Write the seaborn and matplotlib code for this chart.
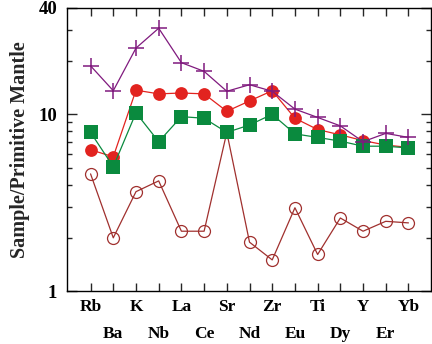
import matplotlib.pyplot as plt
import matplotlib.ticker as mticker
import numpy as np
import pandas as pd
import seaborn as sns

elements = ["Rb", "Ba", "K", "Nb", "La", "Ce", "Sr", "Nd", "Zr", "Eu",
            "Ti", "Dy", "Y", "Er", "Yb"]

open_circle = [4.6, 2.0, 3.65, 4.2, 2.18, 2.18, 7.9, 1.89, 1.5, 2.96,
               1.61, 2.59, 2.18, 2.48, 2.43]
red_circle = [6.3, 5.75, 13.7, 13.05, 13.2, 13.05, 10.4, 11.9, 13.6, 9.5,
              8.2, 7.65, 7.1, 6.7, 6.5]
green_square = [7.9, 5.05, 10.2, 7.0, 9.7, 9.5, 7.9, 8.7, 10.0, 7.75,
                7.4, 7.05, 6.6, 6.6, 6.45]
purple_plus = [18.8, 13.6, 23.7, 30.7, 19.6, 17.5, 13.5, 14.7, 13.5, 10.7,
               9.6, 8.6, 7.0, 7.8, 7.4]

df = pd.DataFrame({
    "pos": np.arange(len(elements)),
    "open": open_circle,
    "red": red_circle,
    "green": green_square,
    "purple": purple_plus,
})

sns.set_theme(style="ticks")
plt.rcParams["font.family"] = ["Liberation Serif", "DejaVu Serif"]
plt.rcParams["font.weight"] = "bold"

fig, ax = plt.subplots(figsize=(4.32, 3.44), dpi=100)
fig.subplots_adjust(left=0.155, right=0.997, top=0.977, bottom=0.154)

styles = [
    ("open", "#a0302e", "o", dict(markerfacecolor="none", markeredgewidth=0.9, markersize=8.6)),
    ("red", "#e2231f", "o", dict(markersize=9.2, markeredgewidth=0)),
    ("green", "#0a8a3e", "s", dict(markersize=9.4, markeredgewidth=0)),
    ("purple", "#801a7e", "+", dict(markersize=11, markeredgewidth=1.1)),
]
for col, color, mk, kw in styles:
    sns.lineplot(data=df, x="pos", y=col, ax=ax, color=color, marker=mk,
                 linewidth=0.9, markeredgecolor=color, **kw)

ax.set_yscale("log")
ax.set_ylim(1, 40)
ax.set_xlim(-1.04, 14.98)
ax.yaxis.set_major_locator(mticker.FixedLocator([1, 10, 40]))
ax.yaxis.set_major_formatter(mticker.FixedFormatter(["1", "10", "40"]))
ax.yaxis.set_minor_locator(mticker.FixedLocator([2, 3, 4, 5, 6, 7, 8, 9, 20, 30]))
ax.yaxis.set_minor_formatter(mticker.NullFormatter())

ax.set_xticks(df["pos"])
ax.set_xticklabels(elements)
ax.tick_params(axis="x", which="major", direction="in", length=5.5, width=1,
               top=True, bottom=True, labelsize=12.5, pad=6)
ax.tick_params(axis="y", which="major", direction="in", length=7, width=1,
               left=True, right=True, labelsize=13.5, pad=7)
ax.tick_params(axis="y", which="minor", direction="in", length=3.6, width=1,
               left=True, right=True)
for t in ax.xaxis.get_major_ticks()[1::2]:
    t.set_pad(25)
for lab in ax.get_xticklabels() + ax.get_yticklabels():
    lab.set_fontweight("bold")
    lab.set_color("black")

for sp in ax.spines.values():
    sp.set_linewidth(1)
    sp.set_color("black")

ax.set_xlabel(None)
ax.set_ylabel("Sample/Primitive Mantle", fontsize=14.5, fontweight="bold", labelpad=6)

fig.savefig("out.png", dpi=100)
